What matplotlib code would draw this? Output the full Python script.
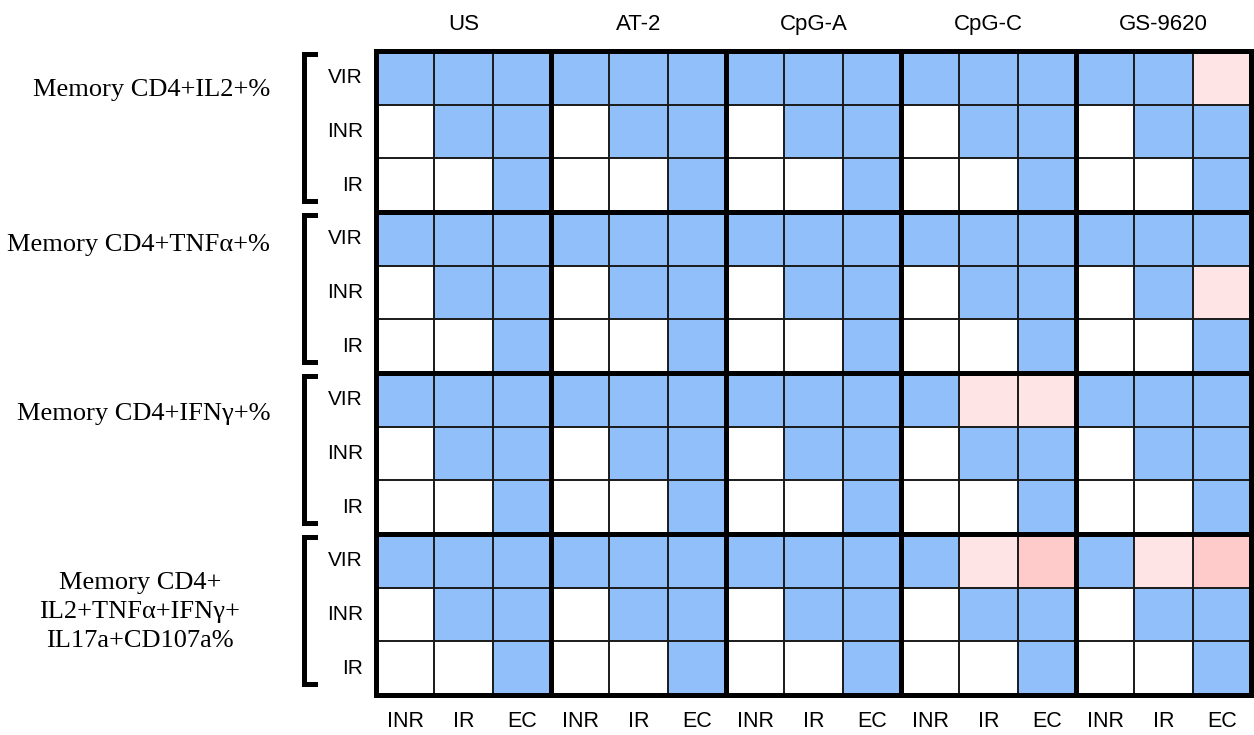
import numpy as np
import matplotlib.pyplot as plt
from matplotlib.colors import ListedColormap

# Stimulations (column groups) and comparison groups inside each
stims = ['US', 'AT-2', 'CpG-A', 'CpG-C', 'GS-9620']
cols = ['INR', 'IR', 'EC']

# Readouts (row groups) and the groups they are compared against
readouts = ['Memory CD4+IL2+%',
            'Memory CD4+TNF\u03b1+%',
            'Memory CD4+IFN\u03b3+%',
            'Memory CD4+\nIL2+TNF\u03b1+IFN\u03b3+\nIL17a+CD107a%']
rows = ['VIR', 'INR', 'IR']

# Cell codes: 0 = not tested, 1 = lower, 2 = slightly higher, 3 = higher
il2 = [[1, 1, 1,  1, 1, 1,  1, 1, 1,  1, 1, 1,  1, 1, 2],
       [0, 1, 1,  0, 1, 1,  0, 1, 1,  0, 1, 1,  0, 1, 1],
       [0, 0, 1,  0, 0, 1,  0, 0, 1,  0, 0, 1,  0, 0, 1]]
tnf = [[1, 1, 1,  1, 1, 1,  1, 1, 1,  1, 1, 1,  1, 1, 1],
       [0, 1, 1,  0, 1, 1,  0, 1, 1,  0, 1, 1,  0, 1, 2],
       [0, 0, 1,  0, 0, 1,  0, 0, 1,  0, 0, 1,  0, 0, 1]]
ifng = [[1, 1, 1,  1, 1, 1,  1, 1, 1,  1, 2, 2,  1, 1, 1],
        [0, 1, 1,  0, 1, 1,  0, 1, 1,  0, 1, 1,  0, 1, 1],
        [0, 0, 1,  0, 0, 1,  0, 0, 1,  0, 0, 1,  0, 0, 1]]
poly = [[1, 1, 1,  1, 1, 1,  1, 1, 1,  1, 2, 3,  1, 2, 3],
        [0, 1, 1,  0, 1, 1,  0, 1, 1,  0, 1, 1,  0, 1, 1],
        [0, 0, 1,  0, 0, 1,  0, 0, 1,  0, 0, 1,  0, 0, 1]]

colours = ['#ffffff', '#91bffa', '#ffe4e6', '#ffcaca']

serif = ['Liberation Serif', 'DejaVu Serif']
sans = ['Liberation Sans', 'DejaVu Sans']

grid = np.array(il2 + tnf + ifng + poly)
n_rows, n_cols = grid.shape

fig = plt.figure(figsize=(12.54, 7.35), dpi=100)
ax = fig.add_axes([0.2998, 0.0544, 0.6978, 0.8762])

ax.pcolormesh(np.arange(n_cols + 1), np.arange(n_rows + 1), grid,
              cmap=ListedColormap(colours), vmin=-0.5, vmax=3.5)
ax.set_xlim(0, n_cols)
ax.set_ylim(n_rows, 0)
ax.axis('off')

# thin cell borders
for x in range(1, n_cols):
    if x % 3:
        ax.axvline(x, color='#1a1a1a', lw=1.4)
for y in range(1, n_rows):
    if y % 3:
        ax.axhline(y, color='#1a1a1a', lw=1.4)
# thick block borders
for x in range(0, n_cols + 1, 3):
    ax.axvline(x, color='black', lw=3.6, clip_on=False)
for y in range(0, n_rows + 1, 3):
    ax.axhline(y, color='black', lw=3.6, clip_on=False)

# column labels
for i, s in enumerate(stims):
    ax.text(3 * i + 1.5, -0.5, s, ha='center', va='center',
            fontsize=16, family=sans)
for j in range(n_cols):
    ax.text(j + 0.5, 12.5, cols[j % 3], ha='center', va='center',
            fontsize=15.5, family=sans)

# row labels, brackets and readout names
name_y = [0.73, 3.62, 6.76, 10.45]
for g, name in enumerate(readouts):
    for k, r in enumerate(rows):
        ax.text(-0.22, 3 * g + k + 0.5, r, ha='right', va='center',
                fontsize=15, family=sans)
    top, bot = 3 * g + 0.05, 3 * g + 2.8
    ax.plot([-1.05, -1.24, -1.24, -1.05], [top, top, bot, bot],
            color='black', lw=3.6, clip_on=False, solid_joinstyle='miter')
    if '\n' in name:
        ax.text(-4.05, name_y[g], name, ha='center', va='center',
                fontsize=19, family=serif, linespacing=1.4,
                multialignment='center')
    else:
        ax.text(-1.81, name_y[g], name, ha='right', va='center',
                fontsize=19, family=serif)

fig.savefig('out.png', dpi=100)
